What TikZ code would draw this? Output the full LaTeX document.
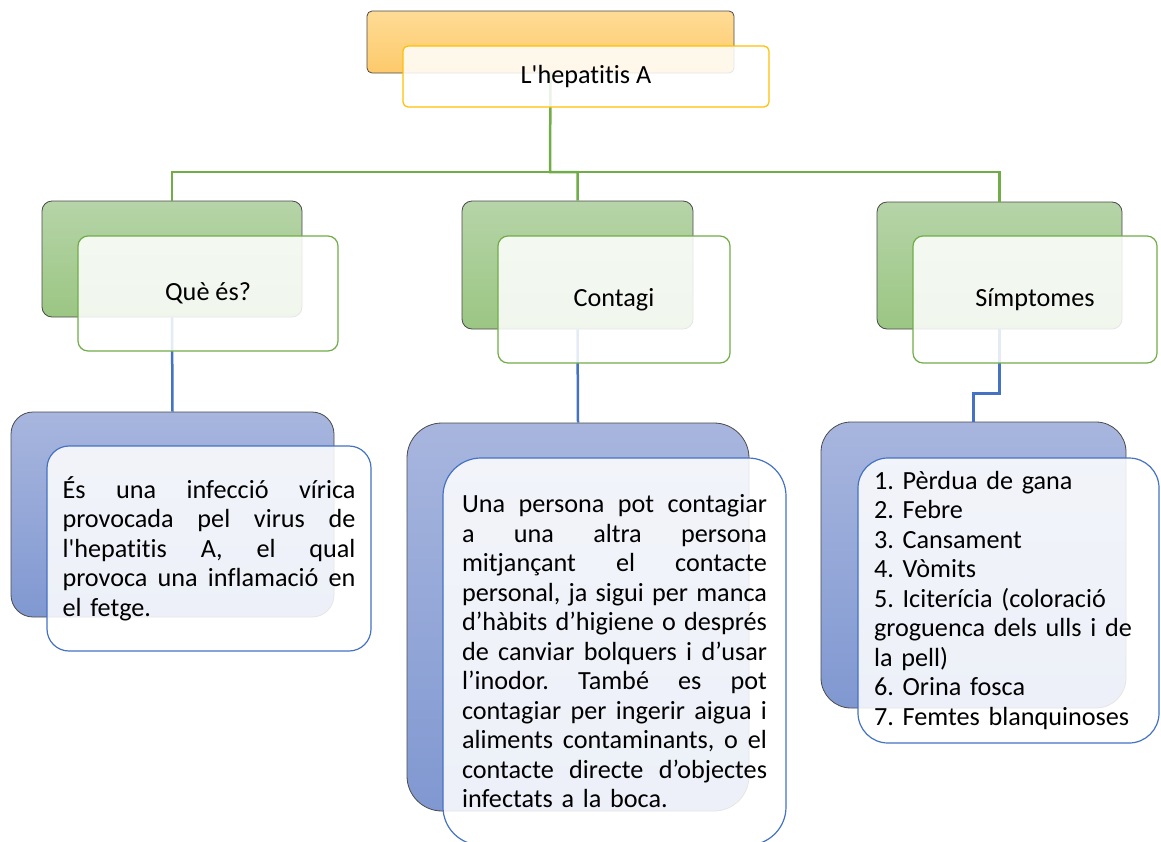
\documentclass[tikz,border=0pt]{standalone}
\usepackage{fontspec}
\setmainfont{Carlito}[Ligatures={TeXOff,CommonOff}]
\frenchspacing

\definecolor{orangetop}{HTML}{FEDB95}
\definecolor{orangebot}{HTML}{FDCA6B}
\definecolor{greentop}{HTML}{B6D4A8}
\definecolor{greenbot}{HTML}{9BC683}
\definecolor{bluetop}{HTML}{A8B6DE}
\definecolor{bluebot}{HTML}{8098D1}
\definecolor{edgegray}{HTML}{4A4A4A}
\definecolor{gold}{HTML}{FFC000}
\definecolor{leafgreen}{HTML}{70AD47}
\definecolor{deepblue}{HTML}{4472C4}

\newcommand{\jline}[2]{{\spaceskip=.226em plus 1fil\xspaceskip=\spaceskip\makebox[#1][s]{#2}}}

\begin{document}
\begin{tikzpicture}[
  x=1pt, y=-1pt,
  font=\fontsize{26.2}{29.5}\selectfont,
  backbox/.style={draw=edgegray,line width=0.8pt,inner sep=0pt},
  obox/.style={backbox,rounded corners=5pt,top color=orangetop,bottom color=orangebot},
  gbox/.style={backbox,rounded corners=10pt,top color=greentop,bottom color=greenbot},
  bbox/.style={backbox,top color=bluetop,bottom color=bluebot},
  frontbox/.style={fill=white,fill opacity=0.86,text opacity=1,line width=1.2pt,inner sep=0pt},
  tbox/.style={frontbox,draw=gold,rounded corners=5pt},
  hbox/.style={frontbox,draw=leafgreen,rounded corners=10pt},
  lbox/.style={frontbox,draw=deepblue,align=left},
  gline/.style={draw=leafgreen,line width=2.5pt},
  bline/.style={draw=deepblue,line width=2.5pt}
]
  \useasboundingbox (0,0) rectangle (1161,841);

  % back boxes
  \node[obox,minimum width=367,minimum height=62] (topback) at (550.5,42) {};
  \node[gbox,minimum width=260,minimum height=116] (queback) at (172,259) {};
  \node[gbox,minimum width=231,minimum height=128] (contback) at (577.5,265) {};
  \node[gbox,minimum width=245,minimum height=127] (simback) at (999.5,265.5) {};
  \node[bbox,rounded corners=22pt,minimum width=323,minimum height=205] (quetxtback) at (172.5,514.5) {};
  \node[bbox,rounded corners=35pt,minimum width=342,minimum height=388] (conttxtback) at (578,617) {};
  \node[bbox,rounded corners=30pt,minimum width=305,minimum height=286] (simtxtback) at (973.5,565) {};

  % connectors
  \coordinate (bus) at (550,172);
  \draw[gline] (topback.south) -- (bus) -| (contback.north);
  \draw[gline] (queback.north) |- (bus) -| (simback.north);
  \draw[bline] (queback.south) -- (quetxtback.north);
  \draw[bline] (contback.south) -- (conttxtback.north);
  \draw[bline] (simback.south) -- ++(0,64) -| (simtxtback.north);

  % front boxes
  \node[tbox,minimum width=366,minimum height=61] (top) at (586,76.5) {L'hepatitis A};
  \node[hbox,minimum width=260,minimum height=115] (que) at (208,293.5) {Què és?};
  \node[hbox,minimum width=232,minimum height=127] (cont) at (614,299.5) {Contagi};
  \node[hbox,minimum width=244,minimum height=127] (sim) at (1035,299.5) {Símptomes};

  \node[lbox,rounded corners=22pt,text width=293,minimum width=324,minimum height=205] (quetxt) at (209,548.5) {%
    \jline{293pt}{És una infecció vírica}\\
    \jline{293pt}{provocada pel virus de}\\
    \jline{293pt}{l'hepatitis A, el qual}\\
    \jline{293pt}{provoca una inflamació en}\\
    el fetge.};
  \node[lbox,rounded corners=38pt,text width=305,minimum width=343,minimum height=387] (conttxt) at (614.5,651.5) {%
    \jline{305pt}{Una persona pot contagiar}\\
    \jline{305pt}{a una altra persona}\\
    \jline{305pt}{mitjançant el contacte}\\
    \jline{305pt}{personal, ja sigui per manca}\\
    \jline{305pt}{d’hàbits d’higiene o després}\\
    \jline{305pt}{de canviar bolquers i d’usar}\\
    \jline{305pt}{l’inodor. També es pot}\\
    \jline{305pt}{contagiar per ingerir aigua i}\\
    \jline{305pt}{aliments contaminants, o el}\\
    \jline{305pt}{contacte directe d’objectes}\\
    infectats a la boca.};
  \node[lbox,rounded corners=30pt,text width=269,minimum width=301,minimum height=285] (simtxt) at (1008.5,600.5) {%
    1. Pèrdua de gana\\
    2. Febre\\
    3. Cansament\\
    4. Vòmits\\
    5. Iciterícia (coloració\\
    groguenca dels ulls i de\\
    la pell)\\
    6. Orina fosca\\
    7. Femtes blanquinoses};
\end{tikzpicture}
\end{document}
